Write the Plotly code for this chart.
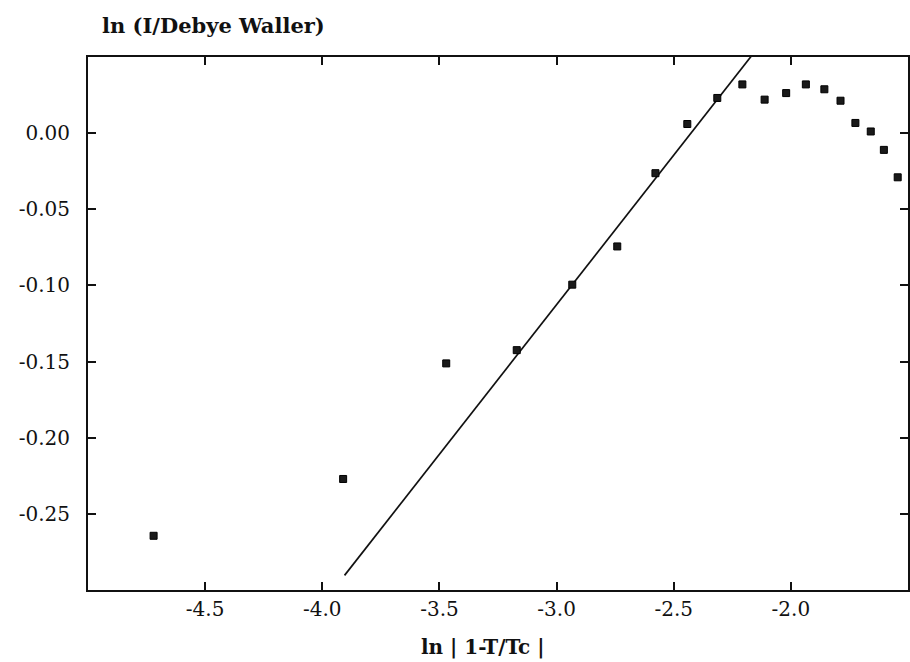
import plotly.graph_objects as go

# Data
ln_t = [-4.720, -3.911, -3.471, -3.170, -2.933, -2.741, -2.578, -2.442, -2.314,
        -2.207, -2.112, -2.020, -1.936, -1.857, -1.788, -1.7245, -1.659, -1.603, -1.544]
ln_i = [-0.2644, -0.2271, -0.1512, -0.1425, -0.0995, -0.0744, -0.0263, 0.0060, 0.0231,
        0.0320, 0.0220, 0.0263, 0.0320, 0.0288, 0.0213, 0.0067, 0.0011, -0.0110, -0.0290]

fit_x = [-3.905, -2.10]
fit_y = [-0.2904, 0.0641]

x_ticks = [-4.5, -4.0, -3.5, -3.0, -2.5, -2.0]
x_tick_labels = ["-4.5", "-4.0", "-3.5", "-3.0", "-2.5", "-2.0"]
y_ticks = [0.00, -0.05, -0.10, -0.15, -0.20, -0.25]
y_tick_labels = ["0.00", "-0.05", "-0.10", "-0.15", "-0.20", "-0.25"]

FONT = "DejaVu Serif"

fig = go.Figure()
fig.add_trace(go.Scatter(
    x=fit_x, y=fit_y, mode="lines",
    line=dict(color="#111111", width=1.7),
    showlegend=False, hoverinfo="skip",
))
fig.add_trace(go.Scatter(
    x=ln_t, y=ln_i, mode="markers",
    marker=dict(symbol="square", size=7, color="#1a1a1a",
                line=dict(color="#000000", width=1)),
    showlegend=False,
))

axis_common = dict(
    showgrid=False, zeroline=False,
    showline=True, linecolor="#111111", linewidth=2,
    mirror="ticks", ticks="inside", ticklen=8, tickwidth=2, tickcolor="#111111",
    tickfont=dict(family=FONT, size=20, color="#111111"),
)

fig.update_xaxes(range=[-5.0, -1.5], tickvals=x_ticks, ticktext=x_tick_labels,
                 ticklabelstandoff=0, **axis_common)
fig.update_yaxes(range=[-0.30, 0.05], tickvals=y_ticks, ticktext=y_tick_labels,
                 ticklabelstandoff=12, **axis_common)

fig.update_layout(
    width=910, height=662,
    margin=dict(l=88, r=0, t=57, b=72),
    paper_bgcolor="white", plot_bgcolor="white",
    annotations=[
        dict(text="<b>ln (I/Debye Waller)</b>", xref="paper", yref="paper",
             x=0.0146, y=1.060, xanchor="left", yanchor="middle", showarrow=False,
             font=dict(family=FONT, size=21, color="#111111")),
        dict(text="<b>ln | 1-T/Tc |</b>", xref="paper", yref="paper",
             x=0.481, y=-0.107, xanchor="center", yanchor="middle", showarrow=False,
             font=dict(family=FONT, size=20, color="#111111")),
    ],
)

fig.write_html("out.html", config={"displayModeBar": False},
               post_script="document.body.style.margin='0';")
